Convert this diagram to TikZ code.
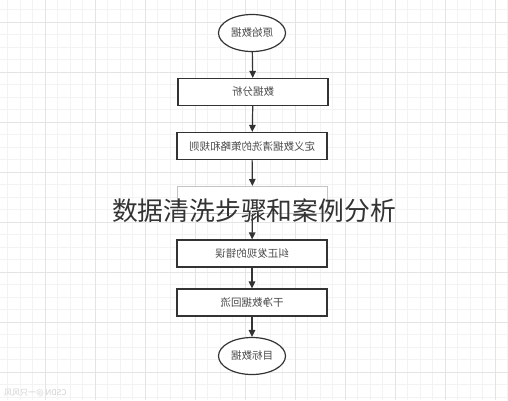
\documentclass[tikz,border=0pt]{standalone}
\usepackage{fontspec}
\newfontfamily\cjk{Noto Sans CJK SC}
\usepackage{graphicx}
\usetikzlibrary{positioning, arrows.meta, shapes.geometric}
\usepackage{xcolor}

\definecolor{gridminor}{HTML}{F3F3F3}
\definecolor{gridmajor}{HTML}{E4E4E4}
\definecolor{linegray}{HTML}{333333}
\definecolor{textgray}{HTML}{4A4A4A}
\definecolor{fadegray}{HTML}{C4C4C4}

\tikzset{
    terminal/.style={ellipse, draw=linegray, line width=1.2pt, fill=white,
        minimum width=67pt, minimum height=37pt, inner sep=0pt,
        text=textgray, font=\cjk\fontsize{10.5}{12}\selectfont},
    procbox/.style={rectangle, draw=linegray, line width=1.2pt, fill=white,
        minimum width=150pt, minimum height=27pt, inner sep=0pt,
        text=textgray, font=\cjk\fontsize{10.5}{12}\selectfont},
    flowarrow/.style={-{Triangle[length=7pt, width=6.5pt]}, line width=1.2pt, draw=linegray}
}

\begin{document}
\begin{tikzpicture}[x=1pt, y=-1pt]
    \useasboundingbox (0,0) rectangle (508,400);
    \fill[white] (0,0) rectangle (508,400);

    % Background grid
    \begin{scope}[shift={(45,22)}]
        \draw[gridminor, line width=0.5pt, step=12.5pt] (-45,-22) grid (463,378);
        \draw[gridmajor, line width=0.6pt, step=50pt] (-45,-22) grid (463,378);
    \end{scope}

    % Flow steps (text printed mirrored)
    \node[terminal] (source) at (252,33) {\reflectbox{原始数据}};
    \node[procbox] (analyse) at (253,92) {\reflectbox{数据分析}};
    \node[procbox] (rules) at (252,146) {\reflectbox{定义数据清洗的策略和规则}};
    \node[procbox, draw=fadegray, line width=1pt] (detect) at (252.5,200) {};
    \node[procbox] (correct) at (252,253.5) {\reflectbox{纠正发现的错误}};
    \node[procbox] (backflow) at (252,302.5) {\reflectbox{干净数据回流}};
    \node[terminal] (target) at (252,356) {\reflectbox{目标数据}};

    % Connectors
    \draw[flowarrow] (source) -- (analyse);
    \draw[flowarrow] (analyse) -- (rules);
    \draw[flowarrow] (rules) -- (detect);
    \draw[flowarrow] (detect) -- (correct);
    \draw[flowarrow] (correct) -- (backflow);
    \draw[flowarrow] (backflow) -- (target);

    % Title over the chart
    \node[text=linegray, font=\cjk\fontsize{25.8}{30}\selectfont] (title) at (254,211) {数据清洗步骤和案例分析};

    % Watermark
    \node[anchor=west, text=black!18, font=\cjk\fontsize{8}{9}\selectfont, inner sep=0pt] (mark) at (4,393) {\reflectbox{CSDN @一只风风}};
\end{tikzpicture}
\end{document}
